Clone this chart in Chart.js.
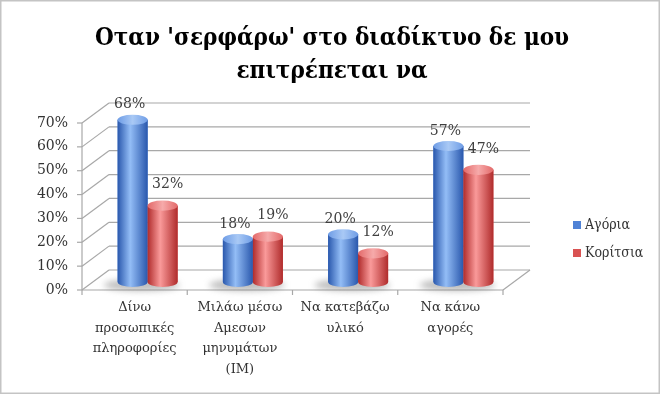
<!DOCTYPE html>
<html><head><meta charset="utf-8">
<script src="https://cdn.jsdelivr.net/npm/chart.js@4/dist/chart.umd.min.js"></script>
<style>html,body{margin:0;padding:0;background:#fff}#wrap{width:660px;height:394px}</style>
</head><body><div id="wrap"><canvas id="c" width="660" height="394"></canvas></div>
<script>
const titleLines = ["Οταν 'σερφάρω' στο διαδίκτυο δε μου", "επιτρέπεται να"];
const categories = [["Δίνω","προσωπικές","πληροφορίες"],["Μιλάω μέσω","Αμεσων","μηνυμάτων","(IM)"],["Να κατεβάζω","υλικό"],["Να κάνω","αγορές"]];
const seriesNames = ["Αγόρια","Κορίτσια"];
const boys = [68,18,20,57];
const girls = [32,19,12,47];
const yTicks = [0,10,20,30,40,50,60,70];

const SERIF = '"DejaVu Serif", serif';
const SERIF_C = '"DejaVu Serif Condensed", "DejaVu Serif", serif';
const palette = [
  {dark:'#2a58ad', light:'#93bdf6', mid:'#4f82d6', top:'#6f9de6', topLight:'#a9c9f5'},
  {dark:'#b02c2c', light:'#fa9a9a', mid:'#d95252', top:'#e36a6a', topLight:'#f6aaaa'}
];
const DX = 27, DY = -20, SX = 13, SY = -8;

function line(ctx,x1,y1,x2,y2){ctx.beginPath();ctx.moveTo(x1,y1);ctx.lineTo(x2,y2);ctx.stroke();}

const depthPlugin = {
  id:'depth',
  beforeDatasetsDraw(chart){
    const {ctx, chartArea:a, scales:{x,y}} = chart;
    ctx.save();
    ctx.strokeStyle = '#a8a8a8'; ctx.lineWidth = 1.2;
    yTicks.forEach(v=>{
      const py = y.getPixelForValue(v);
      line(ctx,a.left,py,a.left+DX,py+DY);
      line(ctx,a.left+DX,py+DY,a.right+DX,py+DY);
      line(ctx,a.left-5,py,a.left,py);
    });
    line(ctx,a.left,a.bottom,a.left,a.top);
    line(ctx,a.left,a.bottom,a.right,a.bottom);
    line(ctx,a.right,a.bottom,a.right+DX,a.bottom+DY);
    const n = categories.length, w = (a.right-a.left)/n;
    for(let i=0;i<=n;i++){ line(ctx,a.left+i*w,a.bottom,a.left+i*w,a.bottom+5); }
    ctx.restore();
    ctx.save();
    ctx.translate(SX,SY);
    ctx.filter = 'blur(3px)';
    ctx.fillStyle = 'rgba(110,110,110,0.45)';
    categories.forEach((c,i)=>{
      const cx = x.getPixelForValue(i);
      ctx.beginPath(); ctx.ellipse(cx-6,y.getPixelForValue(0)+3,38,6,0,0,Math.PI*2); ctx.fill();
    });
    ctx.restore();
    ctx.save();
    ctx.translate(SX,SY);
  },
  afterDatasetsDraw(chart){
    const ctx = chart.ctx;
    chart.data.datasets.forEach((ds,di)=>{
      const meta = chart.getDatasetMeta(di), p = palette[di];
      meta.data.forEach((el,i)=>{
        const {x,y:top,base,width} = el.getProps(['x','y','base','width'],true);
        const l = x-width/2, r = x+width/2, ry = width*0.17;
        const g = ctx.createLinearGradient(l,0,r,0);
        g.addColorStop(0,p.dark); g.addColorStop(0.42,p.light); g.addColorStop(1,p.dark);
        ctx.fillStyle = g;
        ctx.beginPath();
        ctx.moveTo(l,top); ctx.lineTo(l,base);
        ctx.ellipse(x,base,width/2,ry,0,Math.PI,0,true);
        ctx.lineTo(r,top); ctx.closePath(); ctx.fill();
        const tg = ctx.createLinearGradient(l,0,r,0);
        tg.addColorStop(0,p.top); tg.addColorStop(0.5,p.topLight); tg.addColorStop(1,p.top);
        ctx.fillStyle = tg;
        ctx.beginPath(); ctx.ellipse(x,top,width/2,ry,0,0,Math.PI*2); ctx.fill();
        ctx.fillStyle = '#404040';
        ctx.font = '14px '+SERIF;
        ctx.textAlign = 'center'; ctx.textBaseline = 'middle';
        const v = ds.data[i];
        ctx.fillText(v+'%', x + (di===0?-3:5), top - (di===0?15:21));
      });
    });
    ctx.restore();
  },
  afterDraw(chart){
    const ctx = chart.ctx;
    ctx.save();
    ctx.fillStyle = '#000';
    ctx.font = 'bold 24px '+SERIF_C;
    ctx.textAlign = 'center'; ctx.textBaseline = 'middle';
    ctx.fillText(titleLines[0],332,39);
    ctx.fillText(titleLines[1],332,72);
    ctx.font = '14px '+SERIF_C;
    ctx.textAlign = 'left';
    seriesNames.forEach((s,i)=>{
      const cy = 225 + i*28;
      ctx.fillStyle = palette[i].mid;
      ctx.fillRect(573,cy-4,8,8);
      ctx.fillStyle = '#333';
      ctx.fillText(s,585,cy);
    });
    ctx.strokeStyle = '#c4c4c4'; ctx.lineWidth = 1.5;
    ctx.strokeRect(0.75,0.75,658.5,392.5);
    ctx.restore();
  }
};

new Chart(document.getElementById('c'),{
  type:'bar',
  data:{
    labels: categories,
    datasets:[
      {label:seriesNames[0], data:boys, backgroundColor:palette[0].mid, barPercentage:1, categoryPercentage:0.57},
      {label:seriesNames[1], data:girls, backgroundColor:palette[1].mid, barPercentage:1, categoryPercentage:0.57}
    ]
  },
  options:{
    responsive:false, animation:false,
    layout:{padding:{left:0,top:123,right:157,bottom:0}},
    plugins:{legend:{display:false},title:{display:false},tooltip:{enabled:false}},
    scales:{
      x:{grid:{display:false,drawTicks:false},border:{display:false},
         ticks:{font:{family:SERIF,size:13,lineHeight:1.6},color:'#333',padding:7,maxRotation:0,autoSkip:false},
         afterFit(s){s.height=104;}},
      y:{min:0,max:70,grid:{display:false,drawTicks:false},border:{display:false},
         ticks:{stepSize:10,callback:v=>v+'%',font:{family:SERIF,size:14},color:'#333',padding:14},
         afterFit(s){s.width=82;}}
    }
  },
  plugins:[depthPlugin]
});
</script></body></html>
